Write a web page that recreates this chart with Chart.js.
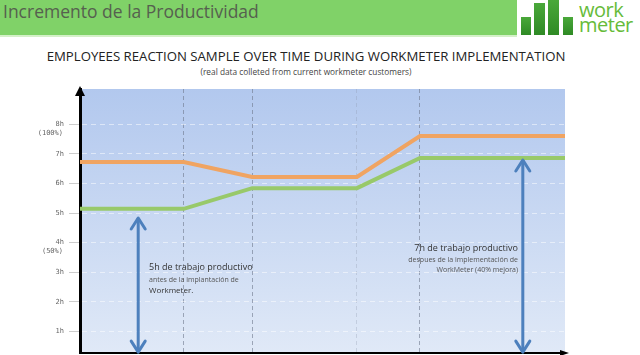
<!DOCTYPE html>
<html>
<head>
<meta charset="utf-8">
<script src="https://cdn.jsdelivr.net/npm/chart.js@4/dist/chart.umd.min.js"></script>
<style>
  body { margin: 0; width: 640px; height: 355px; background: #fff; overflow: hidden; position: relative; font-family: "Open Sans", "Liberation Sans", sans-serif; }
  #chart { position: absolute; left: 0; top: 0; }
  .band { position: absolute; left: 0; top: 0; width: 517px; height: 35px; background: #80d268; border-bottom: 2px solid #d4f0c8; }
  .head { position: absolute; left: 3px; top: -1px; font-size: 17.5px; color: #56604f; white-space: nowrap; }
  .bar { position: absolute; background: linear-gradient(#4aa83a, #2f8a25); }
  .logo { position: absolute; left: 579px; top: 2px; font-size: 20px; line-height: 15px; color: #66bb3a; letter-spacing: -0.5px; }
  .title { position: absolute; left: 0; width: 612px; text-align: center; white-space: nowrap; color: #222; }
  .note { position: absolute; white-space: nowrap; color: #333; line-height: 10px; z-index: 2; }
</style>
</head>
<body>
<div class="band"></div>
<div class="head">Incremento de la Productividad</div>
<div class="bar" style="left:521px;top:17px;width:10px;height:18px"></div>
<div class="bar" style="left:534px;top:3px;width:11px;height:32px"></div>
<div class="bar" style="left:548px;top:0px;width:11px;height:35px"></div>
<div class="bar" style="left:563px;top:17px;width:10px;height:18px"></div>
<div class="logo">work<br>meter</div>
<div class="title" style="top:47px;font-size:13.2px;">EMPLOYEES REACTION SAMPLE OVER TIME DURING WORKMETER IMPLEMENTATION</div>
<div class="title" style="top:66px;font-size:8.3px;color:#444;">(real data colleted from current workmeter customers)</div>
<div class="note" style="left:149px;top:262px;font-size:9px;">5h de trabajo productivo</div>
<div class="note" style="left:149px;top:275px;font-size:7px;color:#555;">antes de la implantación de</div>
<div class="note" style="left:149px;top:285px;font-size:8px;">Workmeter.</div>
<div class="note" style="right:122px;top:243px;font-size:9px;text-align:right;">7h de trabajo productivo</div>
<div class="note" style="right:122px;top:255px;font-size:7px;color:#555;text-align:right;">despues de la implementación de</div>
<div class="note" style="right:122px;top:265px;font-size:7px;color:#555;text-align:right;">WorkMeter (40% mejora)</div>
<canvas id="chart" width="640" height="355"></canvas>
<script>
// x en % del ancho del eje, y en horas
const xPoints = [0, 21.4, 35.5, 57.1, 70.1, 100];
const conWorkmeter = [6.72, 6.72, 6.22, 6.22, 7.6, 7.6];
const sinWorkmeter = [5.14, 5.14, 5.84, 5.84, 6.86, 6.86];
const phaseLines = [21.4, 35.5, 57.1, 70.1];
const hourTicks = [1, 2, 3, 4, 5, 6, 7, 8];
const percentLabels = { 8: '(100%)', 4: '(50%)' };
const arrowBefore = [{ x: 12, y: 4.83 }, { x: 12, y: 0.3 }];
const arrowAfter = [{ x: 91.3, y: 6.79 }, { x: 91.3, y: 0.3 }];

const ctx = document.getElementById('chart');

function toPoints(arr) {
  return arr.map((v, i) => ({ x: xPoints[i], y: v }));
}

const plotBackground = {
  id: 'plotBackground',
  beforeDraw(chart) {
    const a = chart.chartArea;
    const c = chart.ctx;
    const g = c.createLinearGradient(0, a.top, 0, a.bottom);
    g.addColorStop(0, '#b2c8ee');
    g.addColorStop(1, '#e0e9f7');
    c.save();
    c.fillStyle = g;
    c.fillRect(a.left, a.top, a.right - a.left, a.bottom - a.top);
    c.restore();
  }
};

function arrowHead(c, x, y, dir) {
  c.beginPath();
  c.moveTo(x - 7, y - dir * 11);
  c.lineTo(x, y);
  c.lineTo(x + 7, y - dir * 11);
  c.stroke();
}

const extras = {
  id: 'extras',
  afterDraw(chart) {
    const c = chart.ctx;
    const a = chart.chartArea;
    const xs = chart.scales.x, ys = chart.scales.y;
    c.save();
    // flechas de las anotaciones
    c.strokeStyle = '#4d80bd';
    c.lineWidth = 3;
    c.lineCap = 'round';
    c.lineJoin = 'round';
    [arrowBefore, arrowAfter].forEach(arr => {
      const px = xs.getPixelForValue(arr[0].x);
      arrowHead(c, px, ys.getPixelForValue(arr[0].y), -1);
      arrowHead(c, px, ys.getPixelForValue(arr[1].y), 1);
    });
    // puntas de los ejes
    c.fillStyle = '#000';
    c.beginPath();
    c.moveTo(a.left, a.top - 3);
    c.lineTo(a.left - 5, a.top + 7);
    c.lineTo(a.left + 5, a.top + 7);
    c.fill();
    c.beginPath();
    c.moveTo(a.right + 4, a.bottom);
    c.lineTo(a.right - 5, a.bottom - 3);
    c.lineTo(a.right - 5, a.bottom + 3);
    c.fill();
    // porcentajes bajo 8h y 4h
    c.fillStyle = '#666';
    c.font = '7px "DejaVu Sans Mono"';
    c.textAlign = 'right';
    c.textBaseline = 'middle';
    Object.keys(percentLabels).forEach(k => {
      c.fillText(percentLabels[k], 63, ys.getPixelForValue(+k) + 9);
    });
    c.restore();
  }
};

new Chart(ctx, {
  type: 'line',
  data: {
    datasets: [
      { data: toPoints(conWorkmeter), borderColor: '#f0a462', borderWidth: 4, pointRadius: 0 },
      { data: toPoints(sinWorkmeter), borderColor: '#98c96a', borderWidth: 4, pointRadius: 0 },
      { data: arrowBefore, borderColor: '#4d80bd', borderWidth: 3, pointRadius: 0 },
      { data: arrowAfter, borderColor: '#4d80bd', borderWidth: 3, pointRadius: 0 }
    ]
  },
  options: {
    responsive: false,
    animation: false,
    layout: { padding: { top: 89, right: 75, left: 0, bottom: 0 } },
    plugins: { legend: { display: false }, tooltip: { enabled: false } },
    scales: {
      x: {
        type: 'linear', min: 0, max: 100,
        afterBuildTicks: s => { s.ticks = phaseLines.map(v => ({ value: v })); },
        afterFit: s => { s.height = 2; s.paddingLeft = 0; s.paddingRight = 0; },
        ticks: { display: false },
        grid: {
          drawTicks: false,
          lineWidth: 1,
          color: c => c.tick && c.tick.value === 57.1 ? 'rgba(140,150,170,0.3)' : 'rgba(110,120,140,0.6)'
        },
        border: { color: '#000', width: 2, dash: [4, 3] }
      },
      y: {
        min: 0.27, max: 9.19,
        afterBuildTicks: s => { s.ticks = hourTicks.map(v => ({ value: v })); },
        afterFit: s => { s.width = 80; s.paddingTop = 0; s.paddingBottom = 0; },
        ticks: {
          callback: v => v + 'h',
          color: '#666',
          font: { family: 'DejaVu Sans Mono', size: 7 },
          padding: 5
        },
        grid: {
          color: 'rgba(255,255,255,0.5)',
          tickColor: '#ccc',
          tickLength: 11,
          tickBorderDash: [],
          lineWidth: 1
        },
        border: { color: '#000', width: 3, dash: [5, 4] }
      }
    }
  },
  plugins: [plotBackground, extras]
});
</script>
</body>
</html>
